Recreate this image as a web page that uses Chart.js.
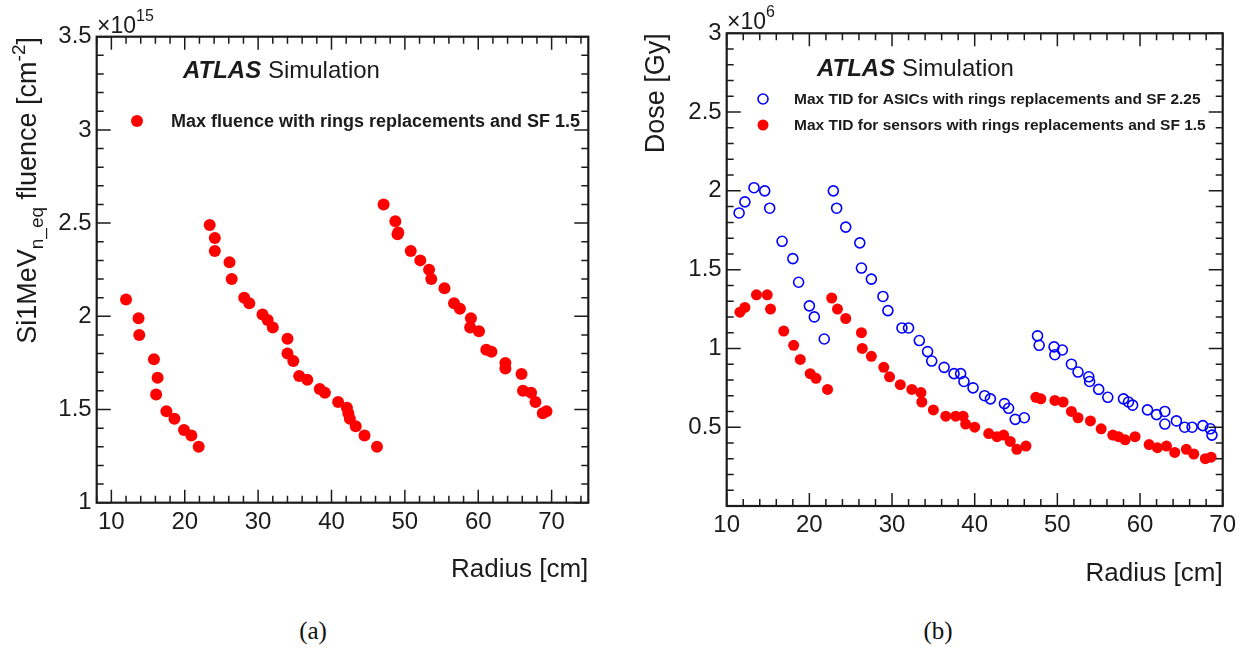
<!DOCTYPE html>
<html lang="en">
<head>
<meta charset="UTF-8" />
<title>ATLAS Simulation - fluence and dose vs radius</title>
<script src="https://cdn.jsdelivr.net/npm/chart.js"></script>
<style>
    body {
        margin: 0;
        background: #fff;
        width: 1247px;
        height: 654px;
        position: relative;
        overflow: hidden;
    }
    canvas {
        position: absolute;
        top: 0;
    }
    #fluenceChart { left: 0; }
    #doseChart { left: 620px; }
    .caption {
        position: absolute;
        top: 617px;
        font-family: 'Liberation Serif', 'DejaVu Serif', serif;
        font-size: 25px;
        color: #111;
        transform: translateX(-50%);
    }
</style>
</head>
<body>

<canvas id="fluenceChart" width="620" height="600"></canvas>
<canvas id="doseChart" width="627" height="600"></canvas>
<div class="caption" style="left:313px">(a)</div>
<div class="caption" style="left:938px">(b)</div>

<script>
    const INK = '#1b1b1b';
    const SANS = "'Liberation Sans', Arial, Helvetica, sans-serif";

    // (a) max fluence, values in units of 1e15 cm^-2
    const fluenceRadius = [12.0, 13.7, 13.8, 15.8, 16.3, 16.1, 17.5, 18.6, 19.9, 20.9, 21.9,
        23.4, 24.1, 24.1, 26.1, 26.4, 28.1, 28.8, 30.6, 31.3, 32.0, 34.0, 34.0, 34.8, 35.6, 36.7,
        38.4, 39.1, 40.9, 42.1, 42.3, 42.5, 43.3, 44.5, 46.2,
        47.1, 48.7, 49.1, 49.0, 50.8, 52.1, 53.3, 53.6, 55.4, 56.7, 57.5, 59.0, 58.9, 60.1, 61.1,
        61.8, 63.7, 63.7, 65.9, 66.1, 67.2, 67.8, 68.8, 69.3];
    const fluenceValue = [2.09, 1.99, 1.90, 1.77, 1.67, 1.58, 1.49, 1.45, 1.39, 1.36, 1.30,
        2.49, 2.42, 2.35, 2.29, 2.20, 2.10, 2.07, 2.01, 1.98, 1.94, 1.88, 1.80, 1.76, 1.68, 1.66,
        1.61, 1.59, 1.54, 1.51, 1.48, 1.45, 1.41, 1.36, 1.30,
        2.60, 2.51, 2.45, 2.44, 2.35, 2.30, 2.25, 2.20, 2.15, 2.07, 2.04, 1.99, 1.94, 1.92, 1.82,
        1.81, 1.75, 1.72, 1.69, 1.60, 1.59, 1.54, 1.48, 1.49];

    // (b) max TID, values in units of 1e6 Gy
    const asicRadius = [11.5, 12.2, 13.3, 14.6, 15.2, 16.7, 18.0, 18.7, 20.0, 20.6, 21.8,
        22.9, 23.3, 24.4, 26.1, 26.3, 27.5, 28.9, 29.5, 31.2, 32.0, 33.3, 34.3, 34.8, 36.3, 37.5,
        38.3, 38.7, 39.8, 41.2, 41.9, 43.6, 44.1, 44.9, 46.0,
        47.6, 47.8, 49.6, 49.7, 50.6, 51.7, 52.5, 53.8, 53.9, 55.0, 56.1, 58.0, 58.6, 59.1, 60.9,
        62.0, 63.0, 63.0, 64.4, 65.4, 66.3, 67.6, 68.5, 68.7];
    const asicDose = [1.86, 1.93, 2.02, 2.00, 1.89, 1.68, 1.57, 1.42, 1.27, 1.20, 1.06,
        2.00, 1.89, 1.77, 1.67, 1.51, 1.44, 1.33, 1.24, 1.13, 1.13, 1.05, 0.98, 0.92, 0.88, 0.84,
        0.84, 0.79, 0.75, 0.70, 0.68, 0.65, 0.62, 0.55, 0.56,
        1.08, 1.02, 1.01, 0.96, 0.99, 0.90, 0.85, 0.82, 0.79, 0.74, 0.69, 0.68, 0.66, 0.64, 0.61,
        0.58, 0.60, 0.52, 0.54, 0.50, 0.50, 0.51, 0.49, 0.45];

    const sensorRadius = [11.6, 12.2, 13.6, 14.9, 15.3, 16.9, 18.1, 18.9, 20.1, 20.8, 22.2,
        22.7, 23.4, 24.4, 26.3, 26.4, 27.5, 29.0, 29.7, 31.0, 32.4, 33.5, 33.6, 35.0, 36.5, 37.7,
        38.6, 38.9, 40.0, 41.7, 42.7, 43.5, 44.3, 45.1, 46.2,
        47.4, 48.0, 49.7, 50.7, 51.7, 52.5, 54.0, 55.3, 56.7, 57.4, 58.2, 59.4, 61.1, 62.1, 63.2,
        64.2, 65.6, 66.5, 67.9, 68.6];
    const sensorDose = [1.23, 1.26, 1.34, 1.34, 1.25, 1.11, 1.02, 0.93, 0.84, 0.81, 0.74,
        1.32, 1.25, 1.19, 1.10, 1.00, 0.95, 0.88, 0.82, 0.77, 0.74, 0.72, 0.66, 0.61, 0.57, 0.57,
        0.57, 0.52, 0.50, 0.46, 0.44, 0.45, 0.41, 0.36, 0.38,
        0.69, 0.68, 0.67, 0.66, 0.60, 0.56, 0.54, 0.49, 0.45, 0.44, 0.42, 0.44, 0.39, 0.37, 0.38,
        0.34, 0.36, 0.33, 0.30, 0.31];

    const radiusLabels = ['10', '20', '30', '40', '50', '60', '70'];
    const fluenceLabels = ['1', '1.5', '2', '2.5', '3', '3.5'];
    const doseLabels = ['0.5', '1', '1.5', '2', '2.5', '3'];

    const toPoints = (xs, ys) => xs.map((x, i) => ({ x: x, y: ys[i] }));
    const fmt = v => String(Math.round(v * 10) / 10);

    // text with sub/superscripts, drawn left to right from (x, y) on the baseline
    function richWidth(ctx, parts) {
        let w = 0;
        parts.forEach(p => { ctx.font = p.font; w += ctx.measureText(p.t).width; });
        return w;
    }
    function drawRich(ctx, x, y, parts, rot) {
        ctx.save();
        ctx.translate(x, y);
        if (rot) ctx.rotate(rot);
        ctx.fillStyle = INK;
        ctx.textAlign = 'left';
        ctx.textBaseline = 'alphabetic';
        let cx = 0;
        parts.forEach(p => {
            ctx.font = p.font;
            ctx.fillText(p.t, cx, p.dy || 0);
            cx += ctx.measureText(p.t).width;
        });
        ctx.restore();
    }

    const decor = {
        fluenceChart: {
            atlas: [183, 78],
            expo: [97, 33, '15'],
            legendTextX: 171,
            legendFont: 'bold 18px ' + SANS,
            legend: [{ ds: 0, x: 137, y: 121, text: 'Max fluence with rings replacements and SF 1.5' }],
            yTitle: {
                x: 36, top: 37, parts: [
                    { t: 'Si1MeV', font: '27px ' + SANS },
                    { t: 'n_eq', font: '19px ' + SANS, dy: 7 },
                    { t: ' fluence [cm', font: '27px ' + SANS },
                    { t: '-2', font: '19px ' + SANS, dy: -11 },
                    { t: ']', font: '27px ' + SANS }
                ]
            }
        },
        doseChart: {
            atlas: [197, 76],
            expo: [107, 29, '6'],
            legendTextX: 174,
            legendFont: 'bold 15.5px ' + SANS,
            legend: [
                { ds: 0, x: 143, y: 99, text: 'Max TID for ASICs with rings replacements and SF 2.25' },
                { ds: 1, x: 143, y: 125, text: 'Max TID for sensors with rings replacements and SF 1.5' }
            ]
        }
    };

    // ROOT style frame: box with inward ticks on all four sides
    const rootFrame = {
        id: 'rootFrame',
        afterDatasetsDraw(chart) {
            const { ctx, chartArea: a } = chart;
            const x = chart.scales.x, y = chart.scales.y;
            ctx.save();
            ctx.strokeStyle = INK;
            ctx.lineWidth = 1.5;
            ctx.beginPath();
            x.ticks.forEach(t => {
                const px = x.getPixelForValue(t.value);
                const len = Math.abs(t.value / 10 - Math.round(t.value / 10)) < 1e-6 ? 13 : 7;
                ctx.moveTo(px, a.bottom); ctx.lineTo(px, a.bottom - len);
                ctx.moveTo(px, a.top); ctx.lineTo(px, a.top + len);
            });
            y.ticks.forEach(t => {
                const py = y.getPixelForValue(t.value);
                const len = Math.abs(t.value * 2 - Math.round(t.value * 2)) < 1e-6 ? 14 : 7;
                ctx.moveTo(a.left, py); ctx.lineTo(a.left + len, py);
                ctx.moveTo(a.right, py); ctx.lineTo(a.right - len, py);
            });
            ctx.stroke();
            ctx.lineWidth = 2.2;
            ctx.strokeRect(a.left, a.top, a.right - a.left, a.bottom - a.top);
            ctx.restore();
        },
        afterDraw(chart) {
            const d = decor[chart.canvas.id];
            const ctx = chart.ctx;

            drawRich(ctx, d.atlas[0], d.atlas[1], [
                { t: 'ATLAS', font: 'italic bold 24px ' + SANS },
                { t: ' Simulation', font: '24px ' + SANS }
            ]);
            drawRich(ctx, d.expo[0], d.expo[1], [
                { t: '\u00d710', font: '23px ' + SANS },
                { t: d.expo[2], font: '16px ' + SANS, dy: -12 }
            ]);

            d.legend.forEach(item => {
                const ds = chart.data.datasets[item.ds];
                ctx.save();
                ctx.beginPath();
                ctx.arc(item.x, item.y, ds.pointRadius, 0, Math.PI * 2);
                if (ds.pointBorderWidth > 0) {
                    ctx.lineWidth = ds.pointBorderWidth;
                    ctx.strokeStyle = ds.pointBorderColor;
                    ctx.stroke();
                } else {
                    ctx.fillStyle = ds.pointBackgroundColor;
                    ctx.fill();
                }
                ctx.fillStyle = INK;
                ctx.font = d.legendFont;
                ctx.textBaseline = 'middle';
                ctx.fillText(item.text, d.legendTextX, item.y + 1);
                ctx.restore();
            });

            if (d.yTitle) {
                const w = richWidth(ctx, d.yTitle.parts);
                drawRich(ctx, d.yTitle.x, d.yTitle.top + w, d.yTitle.parts, -Math.PI / 2);
            }
        }
    };

    function buildChart(id, spec) {
        const ctx = document.getElementById(id);
        return new Chart(ctx, {
            type: 'scatter',
            data: { datasets: spec.datasets },
            options: {
                responsive: false,
                animation: false,
                devicePixelRatio: 1,
                layout: { padding: { top: spec.top, right: spec.right, left: 0, bottom: 0 } },
                plugins: {
                    legend: { display: false },
                    tooltip: { enabled: false }
                },
                scales: {
                    x: {
                        type: 'linear',
                        min: spec.xMin,
                        max: spec.xMax,
                        afterFit: s => { s.height = spec.xAxisHeight; },
                        grid: { display: false, drawTicks: false },
                        border: { display: false },
                        ticks: {
                            stepSize: 2,
                            autoSkip: false,
                            maxRotation: 0,
                            includeBounds: false,
                            padding: 5,
                            color: INK,
                            font: { family: SANS, size: 24 },
                            callback: v => radiusLabels.includes(fmt(v)) ? fmt(v) : ''
                        },
                        title: {
                            display: true,
                            text: 'Radius [cm]',
                            align: 'end',
                            color: INK,
                            font: { family: SANS, size: 26 },
                            padding: { top: 0, bottom: spec.xTitlePad }
                        }
                    },
                    y: {
                        type: 'linear',
                        min: spec.yMin,
                        max: spec.yMax,
                        afterFit: s => { s.width = spec.left; },
                        grid: { display: false, drawTicks: false },
                        border: { display: false },
                        ticks: {
                            stepSize: 0.1,
                            autoSkip: false,
                            includeBounds: false,
                            padding: 5,
                            color: INK,
                            font: { family: SANS, size: 24 },
                            callback: v => spec.yLabels.includes(fmt(v)) ? fmt(v) : ''
                        },
                        title: spec.yTitle
                    }
                }
            },
            plugins: [rootFrame]
        });
    }

    buildChart('fluenceChart', {
        left: 96.7, top: 36.7, right: 620 - 588.3, xAxisHeight: 600 - 502.7, xTitlePad: 15,
        xMin: 8, xMax: 75, yMin: 1, yMax: 3.5, yLabels: fluenceLabels,
        yTitle: { display: false },
        datasets: [{
            label: 'Max fluence with rings replacements and SF 1.5',
            data: toPoints(fluenceRadius, fluenceValue),
            pointRadius: 6,
            pointBorderWidth: 0,
            pointBackgroundColor: '#ff0000',
            pointBorderColor: '#ff0000'
        }]
    });

    buildChart('doseChart', {
        left: 106.7, top: 33.3, right: 627 - 602.7, xAxisHeight: 600 - 506, xTitlePad: 11,
        xMin: 10, xMax: 70, yMin: 0, yMax: 3, yLabels: doseLabels,
        yTitle: {
            display: true,
            text: 'Dose [Gy]',
            align: 'end',
            color: INK,
            font: { family: SANS, size: 27 },
            padding: { top: 20, bottom: 0 }
        },
        datasets: [{
            label: 'Max TID for ASICs with rings replacements and SF 2.25',
            data: toPoints(asicRadius, asicDose),
            pointRadius: 5,
            pointBorderWidth: 1.6,
            pointBackgroundColor: 'rgba(0,0,0,0)',
            pointBorderColor: '#0000ff'
        }, {
            label: 'Max TID for sensors with rings replacements and SF 1.5',
            data: toPoints(sensorRadius, sensorDose),
            pointRadius: 5.5,
            pointBorderWidth: 0,
            pointBackgroundColor: '#ff0000',
            pointBorderColor: '#ff0000'
        }]
    });
</script>

</body>
</html>
